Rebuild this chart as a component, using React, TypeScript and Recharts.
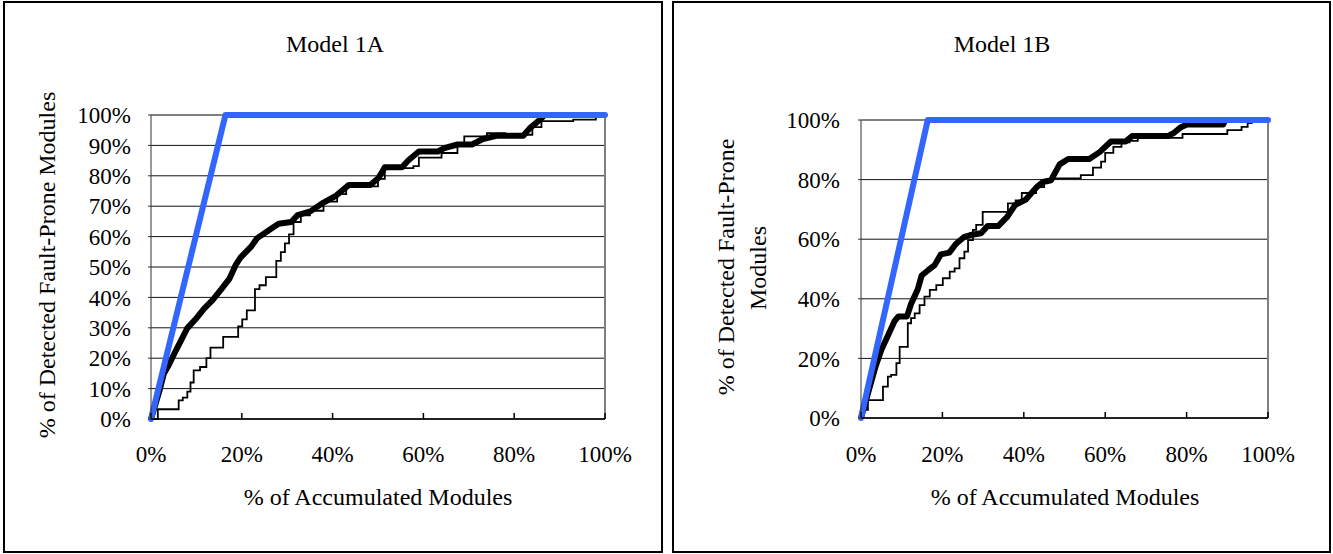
import React from "react";
import {
  LineChart,
  Line,
  XAxis,
  YAxis,
  CartesianGrid,
  ReferenceLine,
} from "recharts";

// x = % of accumulated modules, y = % of detected fault-prone modules
const xTicks = [0, 20, 40, 60, 80, 100];
const yTicks1A = [0, 10, 20, 30, 40, 50, 60, 70, 80, 90, 100];
const yTicks1B = [0, 20, 40, 60, 80, 100];

const ideal1A: [number, number][] = [[0, 0], [16.4, 100], [100, 100]];
const ideal1B: [number, number][] = [[0, 0], [16.4, 100], [100, 100]];

const model1A: [number, number][] = [
  [0, 0], [1, 5], [2, 10], [2.8, 14.8], [4, 18], [5.2, 21.7], [6.6, 25.8],
  [8, 29.9], [9.8, 32.8], [11.7, 36.3], [13.6, 39.2], [15.5, 42.7],
  [17.3, 46.2], [18.7, 50.8], [19.7, 53.1], [22, 56.6], [23.4, 59.5],
  [25.8, 61.9], [28.1, 64.2], [30.9, 64.8], [32.3, 67.1], [35.1, 68.3],
  [38, 71.2], [40.8, 73.5], [43.6, 77], [48.3, 77], [50.1, 79.3],
  [51.5, 82.8], [55.3, 82.8], [56.7, 85.1], [59, 88], [63.2, 88],
  [64.6, 89.1], [67.5, 90.3], [70.7, 90.3], [73.1, 92.1], [76.3, 93.2],
  [82, 93.2], [83.4, 95.6], [85.7, 98.5], [86.7, 100], [100, 100],
];

const other1A: [number, number][] = [
  [0, 0], [1.5, 3.2], [5.2, 3.2], [6.1, 6.1], [7, 7], [8, 9], [8.7, 12],
  [9.4, 16], [10.8, 17.1], [12.2, 20], [13.1, 23.5], [15, 23.5], [15.9, 27],
  [18.3, 27], [19.2, 30.5], [20.1, 32.8], [21.1, 35.7], [22.9, 42.7],
  [23.9, 44], [25.3, 46.7], [26.7, 46.7], [27.6, 52], [28.6, 54.9],
  [29.5, 57.8], [30.4, 60.7], [31.4, 64.8], [33, 67], [35, 68.5], [38, 71.5],
  [41, 74], [43, 76.5], [48, 76.5], [50, 79], [51.5, 82.5], [54, 82.5],
  [57.8, 83.2], [59, 86], [62, 86], [64, 87.5], [67.5, 90], [69, 93],
  [72, 93], [74, 94], [78, 93.5], [82, 93.5], [84, 96], [86, 98], [92, 98],
  [93, 98.5], [97, 98.5], [98, 100], [100, 100],
];

const model1B: [number, number][] = [
  [0, 0], [3.5, 16.9], [5, 22.9], [6.6, 27.6], [8.2, 32.4], [9.2, 34.1],
  [11.3, 34.1], [12.3, 38.3], [13.9, 43], [14.9, 47.8], [16.5, 49.6],
  [18.1, 51.3], [19.6, 54.9], [21.7, 55.5], [23.3, 58.4], [25.4, 60.8],
  [26.9, 61.4], [29.5, 62], [31.1, 64.4], [33.7, 64.4], [35.8, 67.3],
  [37.9, 71.5], [40.5, 73.3], [43.1, 77.4], [44.7, 79.2], [46.7, 79.8],
  [48.8, 85.1], [50.9, 86.9], [56.1, 86.9], [58.7, 89.3], [61.4, 92.8],
  [65, 92.8], [66.6, 94.6], [75.4, 94.6], [77, 95.8], [78.6, 97.6],
  [80.1, 98.5], [89, 98.5], [89.5, 100], [100, 100],
];

const other1B: [number, number][] = [
  [0, 0], [0.5, 2.7], [1.7, 6], [4.6, 6], [5.4, 10.5], [6.6, 13.9],
  [7.4, 14.5], [8.7, 18.4], [9.5, 23.9], [10.7, 23.9], [11.5, 31.8],
  [12.3, 33.5], [13.2, 35.1], [14.4, 37.9], [15.6, 40.7], [16.9, 43],
  [18.5, 44.6], [20.1, 46.9], [21.8, 49.1], [23, 50.2], [24.2, 53.6],
  [25.4, 55.8], [26.3, 59.7], [27.5, 63.1], [28.3, 64.8], [29.9, 69.2],
  [35.7, 69.2], [36.1, 72], [38, 73], [39.5, 75.5], [41, 75.5], [43, 77.5],
  [45, 79.5], [47, 80.4], [52.5, 80.4], [54, 81.5], [57, 84], [59, 86],
  [60, 89], [62, 91], [64, 92.5], [66, 93], [68, 94], [75, 94], [79, 95.3],
  [88.6, 95.3], [90, 96.6], [93.5, 97.7], [95, 99], [96, 100], [100, 100],
];

const font = "'Liberation Serif', 'Times New Roman', serif";
const toRows = (pts: [number, number][]) => pts.map(([x, y]) => ({ x, y }));
const pct = (v: number) => `${v}%`;

interface ModelChartProps {
  width: number;
  margin: { top: number; right: number; bottom: number; left: number };
  yTicks: number[];
  ideal: [number, number][];
  model: [number, number][];
  other: [number, number][];
  xTickMargin: number;
  yTickMargin: number;
}

function ModelChart(p: ModelChartProps) {
  return (
    <LineChart width={p.width} height={554} margin={p.margin}>
      <CartesianGrid vertical={false} stroke="#111" horizontalValues={p.yTicks} />
      <XAxis
        dataKey="x"
        type="number"
        domain={[0, 100]}
        ticks={xTicks}
        interval={0}
        tickFormatter={pct}
        height={60}
        stroke="#000"
        strokeWidth={1.5}
        tickSize={-6}
        tickMargin={p.xTickMargin}
        tick={{ fill: "#000", fontSize: 23, fontFamily: font }}
        allowDuplicatedCategory={false}
      />
      <YAxis
        type="number"
        domain={[0, 100]}
        ticks={p.yTicks}
        interval={0}
        tickFormatter={pct}
        width={70}
        stroke="#333"
        tickSize={3}
        tickMargin={p.yTickMargin}
        tick={{ fill: "#000", fontSize: 23, fontFamily: font }}
      />
      <ReferenceLine x={100} stroke="#808080" strokeWidth={2} />
      <ReferenceLine y={100} stroke="#808080" strokeWidth={2} />
      <Line
        data={toRows(p.other)}
        dataKey="y"
        type="stepAfter"
        stroke="#000"
        strokeWidth={1.8}
        dot={false}
        activeDot={false}
        isAnimationActive={false}
      />
      <Line
        data={toRows(p.model)}
        dataKey="y"
        type="linear"
        stroke="#000"
        strokeWidth={6}
        strokeLinejoin="round"
        dot={false}
        activeDot={false}
        isAnimationActive={false}
      />
      <Line
        data={toRows(p.ideal)}
        dataKey="y"
        type="linear"
        stroke="#3366FF"
        strokeWidth={6}
        strokeLinecap="round"
        strokeLinejoin="round"
        dot={false}
        activeDot={false}
        isAnimationActive={false}
      />
    </LineChart>
  );
}

const textStyle = { fontFamily: font, fontSize: 24, fill: "#000" } as const;

export default function App() {
  return (
    <div style={{ position: "absolute", left: 0, top: 0, width: 1333, height: 554, background: "#fff" }}>
      <div style={{ position: "absolute", left: 3, top: 1, width: 656, height: 548, border: "2px solid #000" }} />
      <div style={{ position: "absolute", left: 672, top: 1, width: 655, height: 548, border: "2px solid #000" }} />

      <div style={{ position: "absolute", left: 0, top: 0 }}>
        <ModelChart
          width={667}
          margin={{ top: 115, right: 62, bottom: 75, left: 81 }}
          yTicks={yTicks1A}
          ideal={ideal1A}
          model={model1A}
          other={other1A}
          xTickMargin={33}
          yTickMargin={17}
        />
      </div>
      <div style={{ position: "absolute", left: 667, top: 0 }}>
        <ModelChart
          width={666}
          margin={{ top: 120, right: 65, bottom: 76, left: 124 }}
          yTicks={yTicks1B}
          ideal={ideal1B}
          model={model1B}
          other={other1B}
          xTickMargin={34}
          yTickMargin={18}
        />
      </div>

      <svg width={1333} height={554} style={{ position: "absolute", left: 0, top: 0, pointerEvents: "none" }}>
        <text x={335} y={52} textAnchor="middle" {...textStyle}>Model 1A</text>
        <text x={378} y={505} textAnchor="middle" {...textStyle}>% of Accumulated Modules</text>
        <text transform="translate(55,265) rotate(-90)" textAnchor="middle" {...textStyle}>
          % of Detected Fault-Prone Modules
        </text>

        <text x={1002} y={52} textAnchor="middle" {...textStyle}>Model 1B</text>
        <text x={1065} y={505} textAnchor="middle" {...textStyle}>% of Accumulated Modules</text>
        <text transform="translate(734,267) rotate(-90)" textAnchor="middle" {...textStyle}>
          % of Detected Fault-Prone
        </text>
        <text transform="translate(766,268) rotate(-90)" textAnchor="middle" {...textStyle}>
          Modules
        </text>
      </svg>
    </div>
  );
}
